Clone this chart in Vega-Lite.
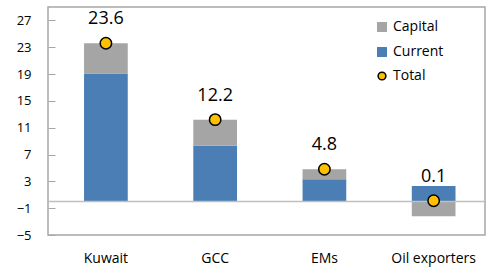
{
  "$schema": "https://vega.github.io/schema/vega-lite/v6.json",
  "width": 437,
  "height": 228,
  "autosize": {"type": "none"},
  "padding": {"left": 48, "top": 7, "right": 1, "bottom": 39},
  "background": "white",
  "config": {
    "font": "Open Sans",
    "view": {"stroke": "#a6a6a6", "strokeWidth": 1.5},
    "axis": {"labelColor": "#000", "labelFont": "Open Sans"},
    "axisY": {"labelOverlap": false, "labelBound": false, "labelFlush": false, "labelFontSize": 13, "ticks": true, "tickColor": "#a6a6a6", "tickWidth": 1, "tickSize": -7, "labelPadding": 24, "domain": false, "grid": false, "title": null, "tickCount": 20},
    "legend": {"labelFont": "Open Sans"}
  },
  "datasets": {
    "bars": [
      {"region": "Kuwait", "component": "Current", "value": 19.1},
      {"region": "Kuwait", "component": "Capital", "value": 4.5},
      {"region": "GCC", "component": "Current", "value": 8.3},
      {"region": "GCC", "component": "Capital", "value": 3.9},
      {"region": "EMs", "component": "Current", "value": 3.3},
      {"region": "EMs", "component": "Capital", "value": 1.5},
      {"region": "Oil exporters", "component": "Current", "value": 2.3},
      {"region": "Oil exporters", "component": "Capital", "value": -2.2}
    ],
    "totals": [
      {"region": "Kuwait", "total": 23.6},
      {"region": "GCC", "total": 12.2},
      {"region": "EMs", "total": 4.8},
      {"region": "Oil exporters", "total": 0.1}
    ]
  },
  "layer": [
    {
      "data": {"name": "bars"},
      "mark": {"type": "bar"},
      "encoding": {
        "x": {
          "field": "region",
          "type": "nominal",
          "sort": ["Kuwait", "GCC", "EMs", "Oil exporters"],
          "scale": {"paddingInner": 0.6, "paddingOuter": 0.3, "align": 0.55},
          "axis": {"title": null, "labelAngle": 0, "domain": false, "ticks": false, "labelFontSize": 14, "labelPadding": 16}
        },
        "y": {
          "field": "value",
          "type": "quantitative",
          "stack": "zero",
          "scale": {"domain": [-5, 29], "nice": false, "zero": false},
          "axis": {"title": null, "values": [-5, -1, 3, 7, 11, 15, 19, 23, 27], "labelOverlap": false, "tickCount": 20}
        },
        "order": {"field": "component", "sort": "descending"},
        "color": {
          "field": "component",
          "type": "nominal",
          "scale": {"domain": ["Capital", "Current", "Total"], "range": ["#a5a5a5", "#4a7eb4", "#ffc000"]},
          "legend": {
            "title": null,
            "orient": "none",
            "legendX": 327,
            "legendY": 13,
            "labelFontSize": 14,
            "labelColor": "#000",
            "rowPadding": 9,
            "symbolOffset": 0,
            "labelOffset": 4,
            "encode": {
              "symbols": {
                "update": {
                  "shape": {"signal": "datum.value === 'Total' ? 'circle' : 'square'"},
                  "size": {"signal": "datum.value === 'Total' ? 60 : 100"},
                  "stroke": {"signal": "datum.value === 'Total' ? '#000' : 'transparent'"},
                  "strokeWidth": {"value": 1.5}
                }
              }
            }
          }
        }
      }
    },
    {
      "data": {"values": [{"v": 0}]},
      "mark": {"type": "rule", "color": "#bfbfbf", "strokeWidth": 1.5},
      "encoding": {"y": {"field": "v", "type": "quantitative"}}
    },
    {
      "data": {"name": "totals"},
      "mark": {"type": "point", "filled": true, "stroke": "#000", "strokeWidth": 1.5, "size": 130, "opacity": 1},
      "encoding": {
        "x": {"field": "region", "type": "nominal", "sort": ["Kuwait", "GCC", "EMs", "Oil exporters"]},
        "y": {"field": "total", "type": "quantitative"},
        "color": {"datum": "Total"}
      }
    },
    {
      "data": {"name": "totals"},
      "mark": {"type": "text", "dy": -24, "fontSize": 18, "color": "#000"},
      "encoding": {
        "x": {"field": "region", "type": "nominal", "sort": ["Kuwait", "GCC", "EMs", "Oil exporters"]},
        "y": {"field": "total", "type": "quantitative"},
        "text": {"field": "total", "type": "quantitative", "format": ".1f"}
      }
    }
  ]
}
